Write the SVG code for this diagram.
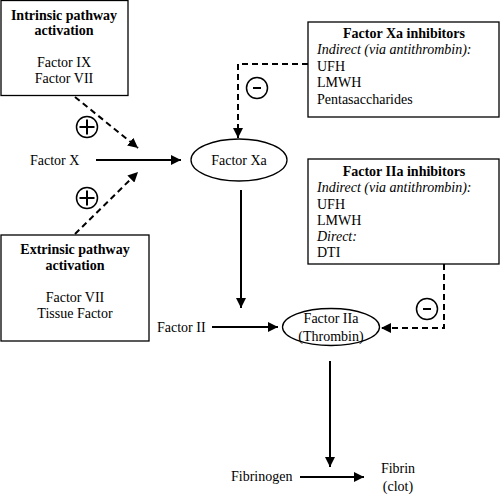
<svg xmlns="http://www.w3.org/2000/svg" width="500" height="495" viewBox="0 0 500 495">
<style>
text{font-family:"Liberation Serif","Times New Roman",serif;font-size:14px;fill:#000}
.b{font-weight:bold}
.i{font-style:italic}
.m{text-anchor:middle}
.box{fill:#fff;stroke:#000;stroke-width:1.3}
.ln{fill:none;stroke:#000;stroke-width:2}
.dash{fill:none;stroke:#000;stroke-width:2;stroke-dasharray:6,4}
.sign{fill:#fff;stroke:#000;stroke-width:1.5}
</style>
<defs>
<marker id="ah" viewBox="0 0 10 10" refX="10" refY="5" markerWidth="10" markerHeight="10" markerUnits="userSpaceOnUse" orient="auto">
<path d="M0,0 L10,5 L0,10 Z" fill="#000"/>
</marker>
</defs>
<g id="connectors">
<line class="dash" x1="75" y1="97" x2="138" y2="148" marker-end="url(#ah)"/>
<line class="dash" x1="75" y1="234" x2="138" y2="172" marker-end="url(#ah)"/>
<line class="ln" x1="96" y1="160" x2="181" y2="160" marker-end="url(#ah)"/>
<polyline class="dash" points="308,64 238,64 238,138" marker-end="url(#ah)"/>
<line class="ln" x1="241" y1="190" x2="241" y2="308" marker-end="url(#ah)"/>
<line class="ln" x1="212" y1="327" x2="278" y2="327" marker-end="url(#ah)"/>
<polyline class="dash" points="444,264 444,328 381,328" marker-end="url(#ah)"/>
<line class="ln" x1="330" y1="361" x2="330" y2="467" marker-end="url(#ah)"/>
<line class="ln" x1="300" y1="477" x2="364" y2="477" marker-end="url(#ah)"/>
<g id="plus1"><circle class="sign" cx="87" cy="127" r="10.5"/><path class="ln" d="M79.5,127 H94.5 M87,119.5 V134.5" stroke-width="1.5"/></g>
<g id="plus2"><circle class="sign" cx="87" cy="198" r="10.5"/><path class="ln" d="M79.5,198 H94.5 M87,190.5 V205.5" stroke-width="1.5"/></g>
<g id="minus1"><circle class="sign" cx="257" cy="88" r="10.5"/><path class="ln" d="M253,88 H261" stroke-width="3"/></g>
<g id="minus2"><circle class="sign" cx="427" cy="309" r="10.5"/><path class="ln" d="M423,309 H431" stroke-width="3"/></g>
</g>
<g id="intrinsic">
<rect class="box" x="1" y="0.5" width="127" height="95"/>
<text class="b m" x="64" y="20">Intrinsic pathway</text>
<text class="b m" x="64" y="35">activation</text>
<text class="m" x="64" y="67">Factor IX</text>
<text class="m" x="64" y="83">Factor VII</text>
</g>
<g id="extrinsic">
<rect class="box" x="1" y="235" width="148" height="106"/>
<text class="b m" x="75" y="254">Extrinsic pathway</text>
<text class="b m" x="75" y="270">activation</text>
<text class="m" x="75" y="302">Factor VII</text>
<text class="m" x="75" y="318">Tissue Factor</text>
</g>
<g id="factorX"><text x="30" y="165">Factor X</text></g>
<g id="factorXa">
<ellipse class="box" cx="239" cy="160" rx="48" ry="21"/>
<text class="m" x="239" y="165">Factor Xa</text>
</g>
<g id="xaInhibitors">
<rect class="box" x="308" y="22" width="191" height="95"/>
<text class="b m" x="404" y="38">Factor Xa inhibitors</text>
<text class="i" x="317" y="54">Indirect (via antithrombin):</text>
<text x="317" y="71">UFH</text>
<text x="317" y="87">LMWH</text>
<text x="317" y="104">Pentasaccharides</text>
</g>
<g id="iiaInhibitors">
<rect class="box" x="308" y="159" width="191" height="105"/>
<text class="b m" x="404" y="176">Factor IIa inhibitors</text>
<text class="i" x="317" y="192">Indirect (via antithrombin):</text>
<text x="317" y="209">UFH</text>
<text x="317" y="225">LMWH</text>
<text class="i" x="317" y="241">Direct:</text>
<text x="317" y="257">DTI</text>
</g>
<g id="factorII"><text x="157" y="332">Factor II</text></g>
<g id="factorIIa">
<ellipse class="box" cx="331" cy="327" rx="48.5" ry="18.5"/>
<text class="m" x="331" y="323">Factor IIa</text>
<text class="m" x="331" y="341">(Thrombin)</text>
</g>
<g id="fibrinogen"><text x="231" y="481">Fibrinogen</text></g>
<g id="fibrin">
<text class="m" x="398" y="473">Fibrin</text>
<text class="m" x="398" y="491">(clot)</text>
</g>
</svg>
